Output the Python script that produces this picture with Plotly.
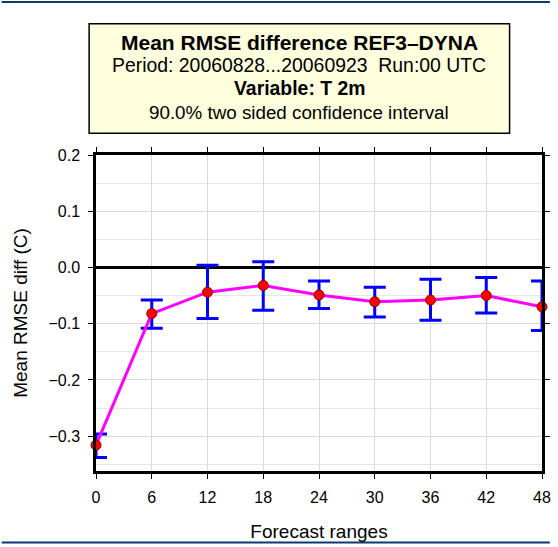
import plotly.graph_objects as go

ranges = [0, 6, 12, 18, 24, 30, 36, 42, 48]
mean_diff = [-0.316, -0.082, -0.044, -0.032, -0.049, -0.061, -0.058, -0.050, -0.070]
ci_upper = [-0.296, -0.058, 0.004, 0.010, -0.024, -0.035, -0.021, -0.018, -0.024]
ci_lower = [-0.338, -0.108, -0.091, -0.076, -0.073, -0.088, -0.094, -0.081, -0.112]

err_plus = [u - m for u, m in zip(ci_upper, mean_diff)]
err_minus = [m - l for m, l in zip(mean_diff, ci_lower)]

W, H = 558, 547
L, R, T, B = 96, 8, 155, 74
pw, ph = W - L - R, H - T - B

fig = go.Figure()
fig.add_trace(go.Scatter(
    x=ranges, y=mean_diff, mode="lines+markers",
    line=dict(color="#FF00FF", width=3),
    marker=dict(color="#FF0000", size=10, line=dict(color="#8B0000", width=1)),
    error_y=dict(type="data", symmetric=False, array=err_plus, arrayminus=err_minus,
                 color="#0000FF", thickness=3, width=11),
    cliponaxis=False, showlegend=False,
))

fig.update_layout(
    width=W, height=H,
    margin=dict(l=L, r=R, t=T, b=B),
    paper_bgcolor="white", plot_bgcolor="white",
    font=dict(family="Liberation Sans, Arial, sans-serif", size=16, color="black"),
    xaxis=dict(
        range=[0, 48], tickvals=ranges, ticks="outside", ticklen=5, tickcolor="black",
        ticklabelstandoff=5, tickfont=dict(size=16),
        showline=True, linecolor="black", linewidth=2.5, mirror="allticks",
        showgrid=True, gridcolor="#d9d9d9", gridwidth=1, zeroline=False,
        title=dict(text="Forecast ranges", font=dict(size=19), standoff=20),
    ),
    yaxis=dict(
        range=[-0.362, 0.2], tickvals=[-0.3, -0.2, -0.1, 0.0, 0.1, 0.2],
        ticktext=["\u22120.3", "\u22120.2", "\u22120.1", "0.0", "0.1", "0.2"],
        ticks="outside", ticklen=5, tickcolor="black", ticklabelstandoff=5,
        tickfont=dict(size=16),
        showline=True, linecolor="black", linewidth=2.5, mirror="allticks",
        showgrid=True, gridcolor="#d9d9d9", gridwidth=1,
        minor=dict(dtick=0.05, tick0=0, showgrid=True, gridcolor="#e6e6e6", ticks=""),
        zeroline=True, zerolinecolor="black", zerolinewidth=3,
        title=dict(text="Mean RMSE diff (C)", font=dict(size=19), standoff=16),
    ),
)

# title box
bx0, bx1, by0, by1 = 89, 517, 23, 133
def px(x):
    return (x - L) / pw
def py(y):
    return 1 - (y - T) / ph

fig.add_shape(type="rect", xref="paper", yref="paper",
              x0=px(bx0), x1=px(bx1), y0=py(by1), y1=py(by0),
              fillcolor="#FFFFDD", line=dict(color="black", width=1.5))
cx = px((bx0 + bx1) / 2)
lines = [
    ("<b>Mean RMSE difference REF3\u2013DYNA</b>", 42, 21),
    ("Period: 20060828...20060923  Run:00 UTC", 64, 19.4),
    ("<b>Variable: T 2m</b>", 88, 19.4),
    ("90.0% two sided confidence interval", 112, 18.8),
]
for txt, yc, sz in lines:
    fig.add_annotation(text=txt, xref="paper", yref="paper", x=cx, y=py(yc),
                       xanchor="center", yanchor="middle", showarrow=False,
                       font=dict(size=sz, color="black"))

# dark blue page borders
for yy in [1, 545]:
    fig.add_shape(type="line", xref="paper", yref="paper",
                  x0=px(0), x1=px(W), y0=py(yy), y1=py(yy),
                  line=dict(color="#0a3a6e", width=2))

fig.write_html("out.html")
